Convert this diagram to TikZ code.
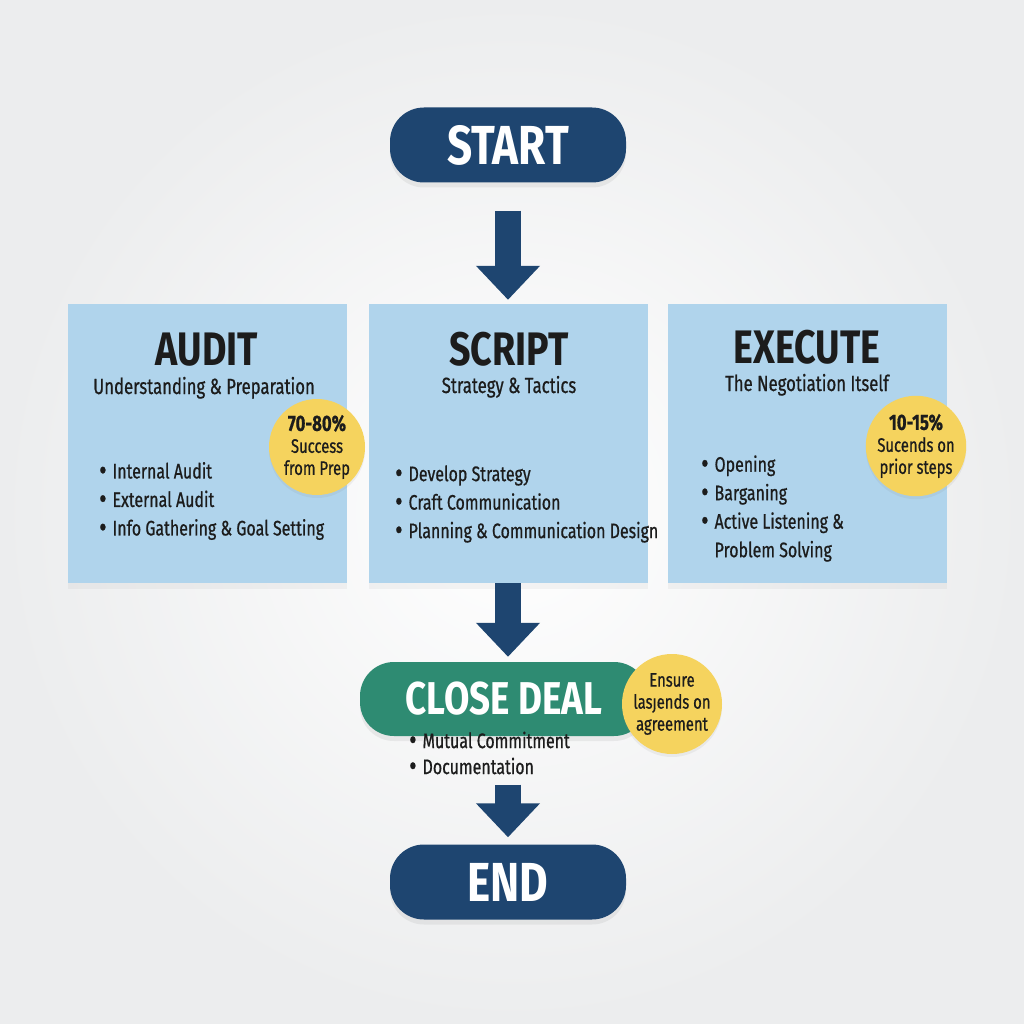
\documentclass[tikz,border=0pt]{standalone}
\usepackage{fontspec}
\setmainfont[FakeStretch=0.8]{Fira Sans}
\newfontfamily\medfont[FakeStretch=0.76,FakeBold=0.7]{Fira Sans}
\usetikzlibrary{arrows.meta,shadows}
\definecolor{navy}{HTML}{1E4570}
\definecolor{lblue}{HTML}{B0D4EC}
\definecolor{ylw}{HTML}{F5D35E}
\definecolor{grn}{HTML}{2E8B72}
\definecolor{bgout}{HTML}{ECEDEE}
\definecolor{ink}{HTML}{1C1C1C}
\newcommand{\fs}[1]{\fontsize{#1}{#1}\selectfont}
\newcommand{\bul}{\smash{\fontsize{30}{20}\selectfont\raisebox{-0.12ex}{•}}\hspace{6pt}}
\newcommand{\bulsp}{\phantom{\bul}}
\begin{document}
\begin{tikzpicture}[x=1pt,y=-1pt,
  pill/.style={rounded corners=34pt, fill=navy, text=white, font=\bfseries\fs{55},
    minimum width=236pt, minimum height=75pt, inner sep=0pt,
    drop shadow={opacity=0.12, shadow xshift=0pt, shadow yshift=-5pt}},
  greenpill/.style={pill, fill=grn, font=\bfseries\fs{46}, minimum width=288pt, minimum height=74pt},
  panel/.style={fill=lblue, minimum width=279pt, minimum height=279pt, inner sep=0pt,
    drop shadow={opacity=0.08, shadow xshift=0pt, shadow yshift=-6pt}},
  ttl/.style={text=ink, font=\bfseries\fs{47}, inner sep=0pt, anchor=base},
  sub/.style={text=ink, font=\medfont\fs{22}, inner sep=0pt, anchor=base},
  items/.style={text=ink, font=\medfont\fontsize{21}{28.5}\selectfont, align=left, inner sep=0pt, anchor=west},
  badge/.style={circle, fill=ylw, text=ink, inner sep=0pt, align=center,
    font=\medfont\fontsize{19.5}{22}\selectfont,
    drop shadow={opacity=0.10, shadow xshift=0pt, shadow yshift=-3pt}},
  bigarrow/.style={draw=navy, line width=26pt, -{Triangle[width=62pt,length=34pt]}}
]
\shade[inner color=white, outer color=bgout] (0,0) rectangle (1024,1024);
\useasboundingbox (0,0) rectangle (1024,1024);

\node[pill] (start) at (508,145) {START};

\node[panel] (audit) at (207.5,443.5) {};
\node[panel] (script) at (508,443.5) {};
\node[panel] (execute) at (807,443.5) {};

\node[ttl] (auditT) at (207,365) {AUDIT};
\node[sub] (auditS) at (204,394) {Understanding \& Preparation};
\node[items] (auditI) at (99,501) {\bul Internal Audit\\\bul External Audit\\\bul Info Gathering \& Goal Setting};
\node[badge, minimum size=96pt] (auditB) at (317,447) {{\bfseries\fs{22}70-80\%}\\Success\\from Prep};

\node[ttl] (scriptT) at (509,365) {SCRIPT};
\node[sub] (scriptS) at (509,393) {Strategy \& Tactics};
\node[items] (scriptI) at (395,504) {\bul Develop Strategy\\\bul Craft Communication\\\bul Planning \& Communication Design};

\node[ttl] (executeT) at (807,363) {EXECUTE};
\node[sub] (executeS) at (807,391) {The Negotiation Itself};
\node[items] (executeI) at (701,508.5) {\bul Opening\\\bul Barganing\\\bul Active Listening \&\\\bulsp Problem Solving};
\node[badge, minimum size=100pt] (executeB) at (916,446) {{\bfseries\fs{22}10-15\%}\\Sucends on\\prior steps};

\node[greenpill] (close) at (504,699) {CLOSE DEAL};
\node[items, font=\medfont\fontsize{21}{26}\selectfont] (closeI) at (409,753) {\bul Mutual Commitment\\\bul Documentation};
\node[badge, minimum size=100pt] (closeB) at (672,704) {Ensure\\lasȷends on\\agreement};

\node[pill] (end) at (508,882) {END};

\draw[bigarrow, shorten <=28pt, shorten >=4pt] (start.south) -- (start.south |- script.north);
\draw[bigarrow, shorten >=5pt] (script.south) -- (script.south |- close.north);
\draw[bigarrow, shorten <=10pt, shorten >=7pt] (closeI.south -| end.north) -- (end.north);
\end{tikzpicture}
\end{document}
